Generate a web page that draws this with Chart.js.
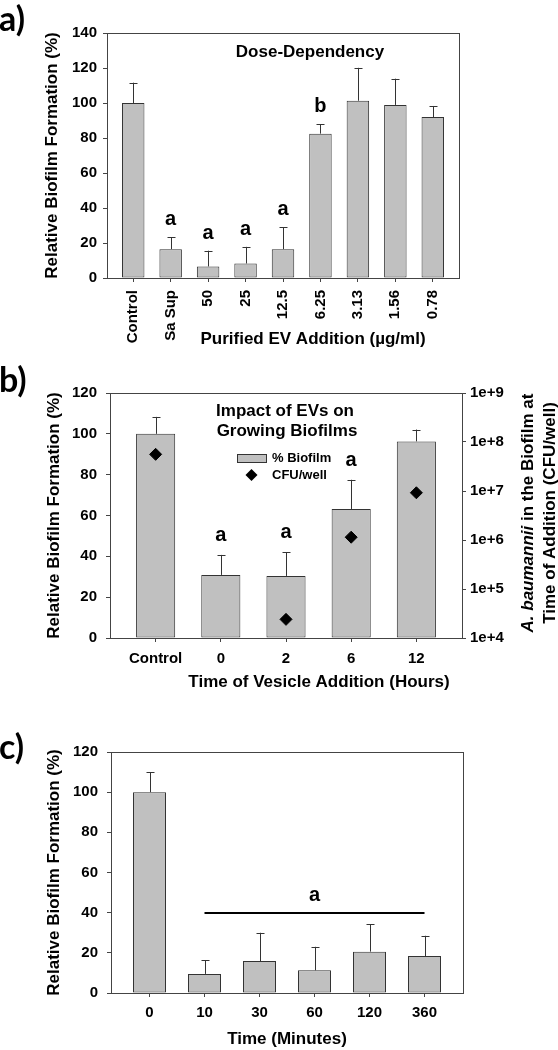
<!DOCTYPE html>
<html>
<head>
<meta charset="utf-8">
<title>Biofilm formation</title>
<script src="https://cdn.jsdelivr.net/npm/chart.js@4.4.1/dist/chart.umd.min.js"></script>
<style>
  body { margin: 0; background: #fff; }
  canvas { position: absolute; left: 0; }
</style>
</head>
<body>
<canvas id="doseChart" width="558" height="350" style="top:0"></canvas>
<canvas id="growChart" width="558" height="350" style="top:350px"></canvas>
<canvas id="timeChart" width="558" height="350" style="top:700px"></canvas>
<script>
//a) dose dependency
const doseLabels = ["Control", "Sa Sup", "50", "25", "12.5", "6.25", "3.13", "1.56", "0.78"];
const doseMeans = [100, 16.5, 6.6, 8.3, 16.5, 82.5, 101.3, 98.9, 92.0];
const doseErrors = [11.6, 6.7, 9.0, 9.5, 12.5, 5.4, 18.8, 15.0, 6.3];
const doseLetters = ["", "a", "a", "a", "a", "b", "", "", ""];

//b) vesicles added to growing biofilms
const growLabels = ["Control", "0", "2", "6", "12"];
const growMeans = [100, 30.9, 30.4, 63.2, 96.3];
const growErrors = [8.3, 9.8, 11.6, 14.3, 5.8];
const growLetters = ["", "a", "a", "a", ""];
const growCfu = [5.6e7, null, 2.4e4, 1.14e6, 9.2e6];
const cfuTicks = [1e4, 1e5, 1e6, 1e7, 1e8, 1e9];

//c) exposure time
const timeLabels = ["0", "10", "30", "60", "120", "360"];
const timeMeans = [100, 9.5, 15.9, 11.3, 20.6, 18.4];
const timeErrors = [10, 6.8, 14.1, 11.7, 13.6, 10.1];
const timeGroup = { from: 1, to: 5, value: 40, letter: "a" };

const ARIAL = "'Liberation Sans', Arial, sans-serif";
const BAR_FILL = "#c0c0c0";
const EDGE = "#333333";
const AXIS = "#444444";
const bold = size => ({ family: ARIAL, size, weight: "bold" });
const css = size => `bold ${size}px ${ARIAL}`;

//box round the plot area
const framePlugin = {
  id: "frame",
  afterDatasetsDraw(chart) {
    const { ctx, chartArea: a } = chart;
    ctx.save();
    ctx.strokeStyle = AXIS;
    ctx.lineWidth = 1;
    ctx.strokeRect(Math.round(a.left) + 0.5, Math.round(a.top) + 0.5,
      Math.round(a.right - a.left), Math.round(a.bottom - a.top));
    ctx.restore();
  },
};

//one-sided error bars plus the letters over them
const errorBars = gap => ({
  id: "errorBars",
  afterDatasetsDraw(chart) {
    const { ctx } = chart;
    chart.data.datasets.forEach((ds, di) => {
      if (!ds.errors) return;
      const meta = chart.getDatasetMeta(di);
      const yScale = chart.scales[meta.yAxisID];
      meta.data.forEach((bar, i) => {
        const top = yScale.getPixelForValue(ds.data[i].y + ds.errors[i]);
        const x = Math.round(bar.x) + 0.5;
        ctx.save();
        ctx.strokeStyle = EDGE;
        ctx.lineWidth = 1;
        ctx.beginPath();
        ctx.moveTo(x, bar.y);
        ctx.lineTo(x, top);
        ctx.moveTo(x - 4, Math.round(top) + 0.5);
        ctx.lineTo(x + 4, Math.round(top) + 0.5);
        ctx.stroke();
        if (ds.letters && ds.letters[i]) {
          ctx.fillStyle = "#000";
          ctx.font = css(20);
          ctx.textAlign = "center";
          ctx.textBaseline = "alphabetic";
          ctx.fillText(ds.letters[i], bar.x, top - gap);
        }
        ctx.restore();
      });
    });
  },
});

//free text: panel letter, inner titles, off-centre axis titles
const notes = items => ({
  id: "notes",
  afterDraw(chart) {
    const { ctx } = chart;
    items.forEach(item => {
      const parts = item.parts || [{ text: item.text, font: item.font }];
      ctx.save();
      ctx.translate(item.x, item.y);
      if (item.rotate) ctx.rotate(item.rotate);
      ctx.fillStyle = "#000";
      ctx.textAlign = "left";
      ctx.textBaseline = item.baseline || "middle";
      const widths = parts.map(p => { ctx.font = p.font; return ctx.measureText(p.text).width; });
      const total = widths.reduce((s, w) => s + w, 0);
      let x = item.align === "left" ? 0 : -total / 2;
      parts.forEach((p, i) => {
        ctx.font = p.font;
        ctx.fillText(p.text, x, 0);
        x += widths[i];
      });
      ctx.restore();
    });
  },
});

//category positions on a linear axis, so the frame can have SigmaPlot's side gap
const categoryAxis = (labels, height, padding, rotation) => ({
  type: "linear",
  offset: false,
  min: -0.7,
  max: labels.length - 0.3,
  afterBuildTicks: s => { s.ticks = labels.map((l, i) => ({ value: i })); },
  afterFit: s => { s.height = height; },
  grid: { offset: false, drawOnChartArea: false, tickLength: 4, color: AXIS },
  border: { display: false },
  ticks: {
    callback: v => labels[v],
    font: bold(15),
    color: "#000",
    padding,
    autoSkip: false,
    maxRotation: rotation,
    minRotation: rotation,
  },
});

const percentAxis = (max, width, titlePad, tickPad) => ({
  min: 0,
  max,
  afterFit: s => { s.width = width; },
  grid: { drawOnChartArea: false, tickLength: 4, color: AXIS },
  border: { display: false },
  ticks: { stepSize: 20, font: bold(15), color: "#000", padding: tickPad },
  title: {
    display: true,
    text: "Relative Biofilm Formation (%)",
    font: bold(17),
    color: "#000",
    padding: { top: titlePad, bottom: 0 },
  },
});

const barSet = (label, means, errors, letters) => ({
  label,
  data: means.map((v, i) => ({ x: i, y: v })),
  errors,
  letters,
  backgroundColor: BAR_FILL,
  borderColor: EDGE,
  borderWidth: 1,
  borderSkipped: false,
  barPercentage: 0.6,
  categoryPercentage: 1,
  order: 2,
});

const baseOptions = padding => ({
  responsive: false,
  animation: false,
  layout: { padding },
  plugins: { legend: { display: false }, tooltip: { enabled: false } },
});

const panelFont = "bold 34px Lato, 'Open Sans', sans-serif";

//a)
new Chart(document.getElementById("doseChart"), {
  type: "bar",
  data: { datasets: [barSet("% Biofilm", doseMeans, doseErrors, doseLetters)] },
  options: {
    ...baseOptions({ top: 33, right: 99, bottom: 0, left: 0 }),
    scales: {
      x: categoryAxis(doseLabels, 72, 8, 90),
      y: percentAxis(140, 107, 42, 6),
    },
  },
  plugins: [framePlugin, errorBars(12), notes([
    { text: "a)", font: panelFont, x: -1, y: 31, align: "left", baseline: "alphabetic" },
    { text: "Dose-Dependency", font: css(17), x: 310, y: 52 },
    { text: "Purified EV Addition (µg/ml)", font: css(17), x: 313, y: 339 },
  ])],
});

//b)
new Chart(document.getElementById("growChart"), {
  type: "bar",
  data: {
    datasets: [
      {
        type: "scatter",
        label: "CFU/well",
        data: growCfu.map((v, i) => ({ x: i, y: v })).filter(p => p.y !== null),
        yAxisID: "y2",
        pointStyle: "rectRot",
        pointRadius: 6,
        borderWidth: 1,
        backgroundColor: "#000",
        borderColor: "#000",
        order: 1,
      },
      barSet("% Biofilm", growMeans, growErrors, growLetters),
    ],
  },
  options: {
    ...baseOptions({ top: 43, right: 0, bottom: 0, left: 0 }),
    scales: {
      x: categoryAxis(growLabels, 62, 8, 0),
      y: percentAxis(120, 110, 44, 9),
      y2: {
        type: "logarithmic",
        position: "right",
        min: 1e4,
        max: 1e9,
        afterBuildTicks: s => { s.ticks = cfuTicks.map(v => ({ value: v })); },
        afterFit: s => { s.width = 96; },
        grid: { drawOnChartArea: false, tickLength: 4, color: AXIS },
        border: { display: false },
        ticks: { callback: v => "1e+" + Math.round(Math.log10(v)), font: bold(15), color: "#000", padding: 4 },
      },
    },
  },
  plugins: [framePlugin, errorBars(14), notes([
    { text: "b)", font: panelFont, x: -1, y: 42, align: "left", baseline: "alphabetic" },
    { text: "Impact of EVs on", font: css(17), x: 285, y: 61 },
    { text: "Growing Biofilms", font: css(17), x: 287, y: 81 },
    { text: "% Biofilm", font: css(13), x: 272, y: 108, align: "left" },
    { text: "CFU/well", font: css(13), x: 272, y: 125, align: "left" },
    { text: "Time of Vesicle Addition (Hours)", font: css(17), x: 319, y: 332 },
    {
      parts: [
        { text: "A. baumannii", font: `italic bold 17px ${ARIAL}` },
        { text: " in the Biofilm at", font: css(17) },
      ],
      x: 528, y: 163, rotate: -Math.PI / 2,
    },
    { text: "Time of Addition (CFU/well)", font: css(17), x: 550, y: 163, rotate: -Math.PI / 2 },
  ]), {
    //legend keys
    id: "legendKeys",
    afterDraw(chart) {
      const { ctx } = chart;
      ctx.save();
      ctx.fillStyle = BAR_FILL;
      ctx.strokeStyle = EDGE;
      ctx.lineWidth = 1;
      ctx.fillRect(237, 104, 29, 8);
      ctx.strokeRect(237.5, 104.5, 29, 8);
      ctx.fillStyle = "#000";
      ctx.beginPath();
      ctx.moveTo(251.5, 119);
      ctx.lineTo(257.5, 125);
      ctx.lineTo(251.5, 131);
      ctx.lineTo(245.5, 125);
      ctx.closePath();
      ctx.fill();
      ctx.restore();
    },
  }],
});

//c)
new Chart(document.getElementById("timeChart"), {
  type: "bar",
  data: { datasets: [barSet("% Biofilm", timeMeans, timeErrors, null)] },
  options: {
    ...baseOptions({ top: 52, right: 95, bottom: 0, left: 0 }),
    scales: {
      x: {
        ...categoryAxis(timeLabels, 57, 7, 0),
        title: { display: true, text: "Time (Minutes)", font: bold(17), color: "#000", padding: { top: 0, bottom: 0 } },
      },
      y: percentAxis(120, 111, 44, 9),
    },
  },
  plugins: [framePlugin, errorBars(12), notes([
    { text: "c)", font: panelFont, x: -1, y: 59, align: "left", baseline: "alphabetic" },
  ]), {
    //line joining the groups that share a letter
    id: "groupLine",
    afterDatasetsDraw(chart) {
      const { ctx, scales: { x, y } } = chart;
      const py = Math.round(y.getPixelForValue(timeGroup.value));
      const x1 = x.getPixelForValue(timeGroup.from);
      const x2 = x.getPixelForValue(timeGroup.to);
      ctx.save();
      ctx.strokeStyle = "#000";
      ctx.lineWidth = 2;
      ctx.beginPath();
      ctx.moveTo(x1, py);
      ctx.lineTo(x2, py);
      ctx.stroke();
      ctx.fillStyle = "#000";
      ctx.font = css(20);
      ctx.textAlign = "center";
      ctx.fillText(timeGroup.letter, (x1 + x2) / 2, py - 12);
      ctx.restore();
    },
  }],
});
</script>
</body>
</html>
